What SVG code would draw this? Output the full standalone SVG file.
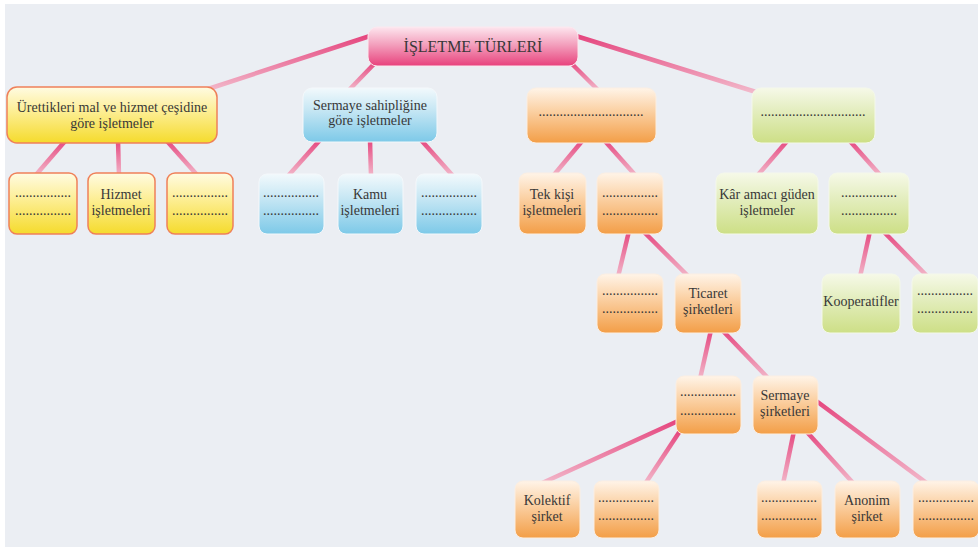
<svg xmlns="http://www.w3.org/2000/svg" width="978" height="547" viewBox="0 0 978 547">
<defs>
<linearGradient id="gY" x1="0" y1="0" x2="0" y2="1"><stop offset="0" stop-color="#fffbe2"/><stop offset="0.4" stop-color="#fdef9a"/><stop offset="1" stop-color="#f5db2c"/></linearGradient>
<linearGradient id="gB" x1="0" y1="0" x2="0" y2="1"><stop offset="0" stop-color="#f2f9fc"/><stop offset="0.4" stop-color="#c7e7f4"/><stop offset="1" stop-color="#7dc9e8"/></linearGradient>
<linearGradient id="gO" x1="0" y1="0" x2="0" y2="1"><stop offset="0" stop-color="#fff4e8"/><stop offset="0.4" stop-color="#fbd2a6"/><stop offset="1" stop-color="#f39e47"/></linearGradient>
<linearGradient id="gG" x1="0" y1="0" x2="0" y2="1"><stop offset="0" stop-color="#f6f9e8"/><stop offset="0.4" stop-color="#e4eec0"/><stop offset="1" stop-color="#cddf86"/></linearGradient>
<linearGradient id="gR" x1="0" y1="0" x2="0" y2="1"><stop offset="0" stop-color="#fde6ee"/><stop offset="0.45" stop-color="#f3a0bd"/><stop offset="1" stop-color="#e8417c"/></linearGradient>
<linearGradient id="gL" x1="0" y1="0" x2="0" y2="1"><stop offset="0" stop-color="#e5477f"/><stop offset="1" stop-color="#f2b8ca"/></linearGradient>
</defs>
<style>
.y{fill:url(#gY);stroke:#ef8059;stroke-width:1.5}
.b{fill:url(#gB);stroke:#f4f8fb;stroke-width:1}
.o{fill:url(#gO);stroke:#fbeee2;stroke-width:1}
.g{fill:url(#gG);stroke:#f4f8ea;stroke-width:1}
.r{fill:url(#gR);stroke:#fbe9ef;stroke-width:1}
text{font-family:"Liberation Serif","Times New Roman",serif;font-size:14px;fill:#383838;text-anchor:middle}
.t{font-size:16px}
#connectors line{stroke:url(#gL);stroke-width:4.5;stroke-linecap:butt}
</style>
<rect x="0" y="0" width="978" height="547" fill="#ffffff"/>
<rect x="5" y="4" width="973" height="543" fill="#ebeef3"/>
<g id="connectors">
<line x1="370" y1="36" x2="205" y2="90"/>
<line x1="376" y1="62" x2="349" y2="90"/>
<line x1="570" y1="62" x2="598" y2="90"/>
<line x1="576" y1="36" x2="756" y2="92"/>
<line x1="66" y1="140" x2="35" y2="176"/>
<line x1="118" y1="140" x2="119" y2="176"/>
<line x1="166" y1="140" x2="198" y2="176"/>
<line x1="320" y1="140" x2="288" y2="176"/>
<line x1="370" y1="140" x2="371" y2="176"/>
<line x1="421" y1="140" x2="453" y2="176"/>
<line x1="583" y1="140" x2="553" y2="176"/>
<line x1="604" y1="140" x2="636" y2="176"/>
<line x1="788" y1="140" x2="757" y2="176"/>
<line x1="849" y1="140" x2="881" y2="176"/>
<line x1="629" y1="231" x2="618" y2="277"/>
<line x1="643" y1="231" x2="689" y2="277"/>
<line x1="870" y1="231" x2="860" y2="277"/>
<line x1="883" y1="231" x2="928" y2="277"/>
<line x1="711" y1="330" x2="700" y2="379"/>
<line x1="722" y1="330" x2="769" y2="379"/>
<line x1="678" y1="421" x2="540" y2="484"/>
<line x1="680" y1="431" x2="645" y2="484"/>
<line x1="794" y1="431" x2="783" y2="484"/>
<line x1="806" y1="431" x2="854" y2="484"/>
<line x1="815" y1="400" x2="928" y2="484"/>
</g>
<g id="root"><rect class="r" x="368" y="27" width="210" height="39" rx="9"/><text class="t" x="473" y="52">İŞLETME TÜRLERİ</text></g>
<g id="n-yellow"><rect class="y" x="7" y="87" width="210" height="56" rx="10"/><text x="112" y="112">Ürettikleri mal ve hizmet çeşidine</text><text x="112" y="128">göre işletmeler</text></g>
<g id="n-blue"><rect class="b" x="303" y="88" width="134" height="54" rx="9"/><text x="370" y="110">Sermaye sahipliğine</text><text x="370" y="125">göre işletmeler</text></g>
<g id="n-orange"><rect class="o" x="527" y="88" width="129" height="55" rx="9"/><text x="591" y="116">..............................</text></g>
<g id="n-green"><rect class="g" x="752" y="88" width="123" height="55" rx="9"/><text x="813" y="116">..............................</text></g>
<g id="y1"><rect class="y" x="9" y="173" width="68" height="61" rx="8"/><text x="43" y="197">................</text><text x="43" y="215">................</text></g>
<g id="y2"><rect class="y" x="88" y="173" width="67" height="61" rx="8"/><text x="121" y="199">Hizmet</text><text x="121" y="215">işletmeleri</text></g>
<g id="y3"><rect class="y" x="167" y="173" width="66" height="61" rx="8"/><text x="200" y="197">................</text><text x="200" y="215">................</text></g>
<g id="b1"><rect class="b" x="259" y="174" width="65" height="60" rx="8"/><text x="291" y="197">................</text><text x="291" y="215">................</text></g>
<g id="b2"><rect class="b" x="338" y="174" width="65" height="60" rx="8"/><text x="370" y="199">Kamu</text><text x="370" y="215">işletmeleri</text></g>
<g id="b3"><rect class="b" x="416" y="174" width="66" height="60" rx="8"/><text x="449" y="197">................</text><text x="449" y="215">................</text></g>
<g id="o1"><rect class="o" x="519" y="173" width="67" height="61" rx="8"/><text x="552" y="199">Tek kişi</text><text x="552" y="215">işletmeleri</text></g>
<g id="o2"><rect class="o" x="597" y="173" width="66" height="61" rx="8"/><text x="630" y="197">................</text><text x="630" y="215">................</text></g>
<g id="g1"><rect class="g" x="716" y="173" width="102" height="61" rx="8"/><text x="767" y="199">Kâr amacı güden</text><text x="767" y="215">işletmeler</text></g>
<g id="g2"><rect class="g" x="829" y="173" width="80" height="61" rx="8"/><text x="869" y="197">................</text><text x="869" y="215">................</text></g>
<g id="o3"><rect class="o" x="597" y="274" width="66" height="59" rx="8"/><text x="630" y="295">................</text><text x="630" y="313">................</text></g>
<g id="o4"><rect class="o" x="675" y="274" width="66" height="59" rx="8"/><text x="708" y="298">Ticaret</text><text x="708" y="314">şirketleri</text></g>
<g id="g3"><rect class="g" x="822" y="274" width="78" height="59" rx="8"/><text x="861" y="306">Kooperatifler</text></g>
<g id="g4"><rect class="g" x="912" y="274" width="66" height="59" rx="8"/><text x="945" y="295">................</text><text x="945" y="313">................</text></g>
<g id="o5"><rect class="o" x="676" y="376" width="65" height="58" rx="8"/><text x="708" y="396">................</text><text x="708" y="415">................</text></g>
<g id="o6"><rect class="o" x="753" y="376" width="65" height="58" rx="8"/><text x="785" y="400">Sermaye</text><text x="785" y="416">şirketleri</text></g>
<g id="o7"><rect class="o" x="515" y="481" width="65" height="57" rx="8"/><text x="547" y="505">Kolektif</text><text x="547" y="521">şirket</text></g>
<g id="o8"><rect class="o" x="594" y="481" width="65" height="57" rx="8"/><text x="626" y="502">................</text><text x="626" y="520">................</text></g>
<g id="o9"><rect class="o" x="757" y="481" width="65" height="57" rx="8"/><text x="789" y="502">................</text><text x="789" y="520">................</text></g>
<g id="o10"><rect class="o" x="835" y="481" width="65" height="57" rx="8"/><text x="867" y="505">Anonim</text><text x="867" y="521">şirket</text></g>
<g id="o11"><rect class="o" x="913" y="481" width="66" height="57" rx="8"/><text x="946" y="502">................</text><text x="946" y="520">................</text></g>
</svg>
